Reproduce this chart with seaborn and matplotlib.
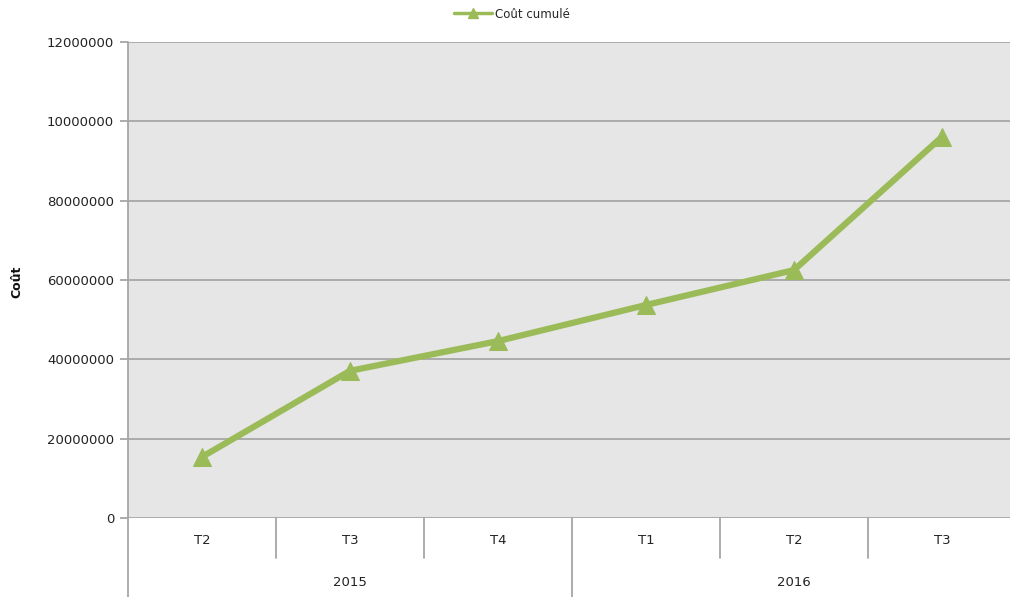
import numpy as np
import pandas as pd
import matplotlib
matplotlib.use("Agg")
import matplotlib.pyplot as plt
import matplotlib.transforms as mtransforms
import seaborn as sns

quarters = ["T2", "T3", "T4", "T1", "T2", "T3"]
years = ["2015", "2015", "2015", "2016", "2016", "2016"]
cout_cumule = [15400000, 37100000, 44600000, 53700000, 62500000, 96100000]
ytick_values = [0, 20000000, 40000000, 60000000, 80000000, 100000000, 120000000]
ytick_labels = ["0", "20000000", "40000000", "60000000", "80000000", "10000000", "12000000"]

sns.set_theme(style="white")
plt.rcParams['font.family'] = ['DejaVu Sans']

W, H = 1010, 597
fig = plt.figure(figsize=(W / 100, H / 100), dpi=100)
left, right, top, bottom = 128, 1010, 42, 518
ax = fig.add_axes([left / W, 1 - bottom / H, (right - left) / W, (bottom - top) / H])
ax.set_facecolor("#E6E6E6")

df = pd.DataFrame({"pos": np.arange(len(quarters)), "val": cout_cumule})
green = "#9BBB59"
grid_c = "#A6A6A6"

ax.set_ylim(0, 120000000)
ax.set_xlim(-0.5, (right - left) / 148 - 0.5)
for v in ytick_values:
    ax.axhline(v, color=grid_c, lw=1.3, zorder=1)

sns.lineplot(data=df, x="pos", y="val", ax=ax, color=green, lw=4.5,
             marker="^", markersize=13, markeredgecolor=green,
             markerfacecolor=green, zorder=3, legend=False)

ax.set_xlabel("")
ax.set_ylabel("")
ax.set_yticks(ytick_values)
ax.set_yticklabels(ytick_labels, fontsize=9.5, color="#222222")
ax.set_xticks([])

for s in ["top", "right", "bottom", "left"]:
    ax.spines[s].set_visible(False)
ax.tick_params(axis="y", which="both", left=True, length=6, width=1.3,
               color=grid_c, pad=4)

trans = mtransforms.blended_transform_factory(ax.transData, ax.transAxes)
px = 1.0 / (bottom - top)
ax.plot([-0.5, -0.5], [1, -(H - bottom) * px], transform=trans, color=grid_c,
        lw=1.3, clip_on=False, zorder=4)
for i in range(1, len(quarters)):
    xb = i - 0.5
    if years[i] != years[i - 1]:
        y_end = -(H - bottom) * px
    else:
        y_end = -40 * px
    ax.plot([xb, xb], [0, y_end], transform=trans, color=grid_c, lw=1.3,
            clip_on=False, zorder=4)
for i, q in enumerate(quarters):
    ax.text(i, -23 * px, q, transform=trans, ha="center", va="center",
            fontsize=9.5, color="#222222")
yr_unique = []
for y in years:
    if y not in yr_unique:
        yr_unique.append(y)
for y in yr_unique:
    idx = [i for i, v in enumerate(years) if v == y]
    lo, hi = idx[0] - 0.5, idx[-1] + 0.5
    ax.text((lo + hi) / 2, -64 * px, y, transform=trans, ha="center",
            va="center", fontsize=9.5, color="#222222")

fig.text(17 / W, 1 - 282 / H, "Coût", rotation=90, ha="center", va="center",
         fontsize=9, fontweight="bold", color="#111111")

from matplotlib.lines import Line2D
h = Line2D([], [], color=green, lw=2.5, marker="^", markersize=7,
           markeredgecolor=green, markerfacecolor=green)
fig.legend([h], ["Coût cumulé"], loc="center", bbox_to_anchor=(512 / W, 1 - 14 / H),
           frameon=False, fontsize=8.5, handlelength=3.2, handletextpad=0.3,
           borderpad=0)

fig.savefig("out.png", dpi=100)
